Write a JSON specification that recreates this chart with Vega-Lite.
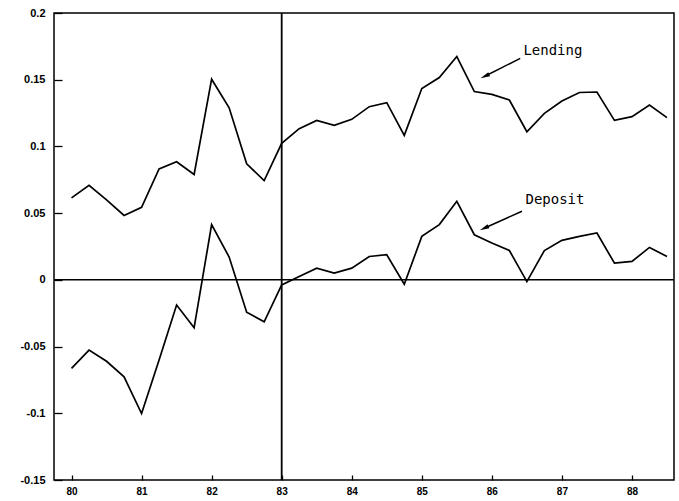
{
  "$schema": "https://vega.github.io/schema/vega-lite/v6.json",
  "width": 620,
  "height": 467,
  "autosize": {"type": "none"},
  "padding": {"left": 54, "top": 13, "right": 5, "bottom": 21},
  "background": "white",
  "config": {
    "view": {"stroke": "black", "strokeWidth": 1.5},
    "axis": {"grid": false, "domain": false, "tickColor": "black", "tickWidth": 1.3, "labelColor": "black", "labelFont": "Liberation Sans", "labelFontWeight": "bold", "title": null}
  },
  "datasets": {
    "series": [
      {"t": 80.0, "s": "Lending", "v": 0.0614}, {"t": 80.25, "s": "Lending", "v": 0.0709}, {"t": 80.5, "s": "Lending", "v": 0.060}, {"t": 80.75, "s": "Lending", "v": 0.0483},
      {"t": 81.0, "s": "Lending", "v": 0.0544}, {"t": 81.25, "s": "Lending", "v": 0.0832}, {"t": 81.5, "s": "Lending", "v": 0.0885}, {"t": 81.75, "s": "Lending", "v": 0.079},
      {"t": 82.0, "s": "Lending", "v": 0.1504}, {"t": 82.25, "s": "Lending", "v": 0.129}, {"t": 82.5, "s": "Lending", "v": 0.087}, {"t": 82.75, "s": "Lending", "v": 0.0744},
      {"t": 83.0, "s": "Lending", "v": 0.1023}, {"t": 83.25, "s": "Lending", "v": 0.1133}, {"t": 83.5, "s": "Lending", "v": 0.1195}, {"t": 83.75, "s": "Lending", "v": 0.1158},
      {"t": 84.0, "s": "Lending", "v": 0.1203}, {"t": 84.25, "s": "Lending", "v": 0.1298}, {"t": 84.5, "s": "Lending", "v": 0.1328}, {"t": 84.75, "s": "Lending", "v": 0.1083},
      {"t": 85.0, "s": "Lending", "v": 0.1434}, {"t": 85.25, "s": "Lending", "v": 0.1516}, {"t": 85.5, "s": "Lending", "v": 0.1674}, {"t": 85.75, "s": "Lending", "v": 0.1411},
      {"t": 86.0, "s": "Lending", "v": 0.139}, {"t": 86.25, "s": "Lending", "v": 0.1348}, {"t": 86.5, "s": "Lending", "v": 0.111}, {"t": 86.75, "s": "Lending", "v": 0.1248},
      {"t": 87.0, "s": "Lending", "v": 0.134}, {"t": 87.25, "s": "Lending", "v": 0.1404}, {"t": 87.5, "s": "Lending", "v": 0.1408}, {"t": 87.75, "s": "Lending", "v": 0.1195},
      {"t": 88.0, "s": "Lending", "v": 0.1223}, {"t": 88.25, "s": "Lending", "v": 0.131}, {"t": 88.5, "s": "Lending", "v": 0.1216},
      {"t": 80.0, "s": "Deposit", "v": -0.0664}, {"t": 80.25, "s": "Deposit", "v": -0.0526}, {"t": 80.5, "s": "Deposit", "v": -0.061}, {"t": 80.75, "s": "Deposit", "v": -0.0727},
      {"t": 81.0, "s": "Deposit", "v": -0.1002}, {"t": 81.25, "s": "Deposit", "v": -0.06}, {"t": 81.5, "s": "Deposit", "v": -0.0188}, {"t": 81.75, "s": "Deposit", "v": -0.0359},
      {"t": 82.0, "s": "Deposit", "v": 0.0414}, {"t": 82.25, "s": "Deposit", "v": 0.0171}, {"t": 82.5, "s": "Deposit", "v": -0.0243}, {"t": 82.75, "s": "Deposit", "v": -0.0314},
      {"t": 83.0, "s": "Deposit", "v": -0.0038}, {"t": 83.25, "s": "Deposit", "v": 0.0025}, {"t": 83.5, "s": "Deposit", "v": 0.0088}, {"t": 83.75, "s": "Deposit", "v": 0.005},
      {"t": 84.0, "s": "Deposit", "v": 0.0088}, {"t": 84.25, "s": "Deposit", "v": 0.0175}, {"t": 84.5, "s": "Deposit", "v": 0.0188}, {"t": 84.75, "s": "Deposit", "v": -0.0033},
      {"t": 85.0, "s": "Deposit", "v": 0.0326}, {"t": 85.25, "s": "Deposit", "v": 0.0414}, {"t": 85.5, "s": "Deposit", "v": 0.0589}, {"t": 85.75, "s": "Deposit", "v": 0.0338},
      {"t": 86.0, "s": "Deposit", "v": 0.0276}, {"t": 86.25, "s": "Deposit", "v": 0.022}, {"t": 86.5, "s": "Deposit", "v": -0.0013}, {"t": 86.75, "s": "Deposit", "v": 0.022},
      {"t": 87.0, "s": "Deposit", "v": 0.0296}, {"t": 87.25, "s": "Deposit", "v": 0.0326}, {"t": 87.5, "s": "Deposit", "v": 0.0351}, {"t": 87.75, "s": "Deposit", "v": 0.0125},
      {"t": 88.0, "s": "Deposit", "v": 0.0138}, {"t": 88.25, "s": "Deposit", "v": 0.0243}, {"t": 88.5, "s": "Deposit", "v": 0.0175}
    ],
    "labels": [
      {"name": "Lending", "x": 86.45, "y": 0.1717, "ax": 86.405, "ay": 0.1660, "bx": 85.9, "by": 0.1526},
      {"name": "Deposit", "x": 86.48, "y": 0.0602, "ax": 86.43, "ay": 0.0514, "bx": 85.89, "by": 0.0387}
    ]
  },
  "layer": [
    {
      "data": {"values": [{"z": 0}]},
      "mark": {"type": "rule", "color": "black", "strokeWidth": 1.5},
      "encoding": {"y": {"field": "z", "type": "quantitative", "scale": {"domain": [-0.15, 0.2], "nice": false, "zero": false}}}
    },
    {
      "data": {"values": [{"z": 83}]},
      "mark": {"type": "rule", "color": "black", "strokeWidth": 1.8},
      "encoding": {"x": {"field": "z", "type": "quantitative", "scale": {"domain": [79.75, 88.6], "nice": false, "zero": false}}}
    },
    {
      "data": {"name": "series"},
      "mark": {"type": "line", "color": "black", "strokeWidth": 1.7, "strokeJoin": "miter"},
      "encoding": {
        "x": {"field": "t", "type": "quantitative", "scale": {"domain": [79.75, 88.6], "nice": false, "zero": false},
          "axis": {"values": [80, 80.25, 80.5, 80.75, 81, 81.25, 81.5, 81.75, 82, 82.25, 82.5, 82.75, 83, 83.25, 83.5, 83.75, 84, 84.25, 84.5, 84.75, 85, 85.25, 85.5, 85.75, 86, 86.25, 86.5, 86.75, 87, 87.25, 87.5, 87.75, 88, 88.25, 88.5],
            "format": "d", "labelExpr": "datum.value % 1 === 0 ? format(datum.value, 'd') : ''", "offset": -5, "tickSize": 5, "labelPadding": 6, "labelFontSize": 10, "labelFlush": false}},
        "y": {"field": "v", "type": "quantitative", "scale": {"domain": [-0.15, 0.2], "nice": false, "zero": false},
          "axis": {"values": [-0.15, -0.1, -0.05, 0, 0.05, 0.1, 0.15, 0.2], "format": ".2~f", "labelExpr": "replace(datum.label, '\u2212', '-')", "offset": -8, "tickSize": 8, "labelPadding": 9, "labelFontSize": 11, "labelFlush": false}},
        "detail": {"field": "s", "type": "nominal"}
      }
    },
    {
      "data": {"name": "labels"},
      "mark": {"type": "text", "align": "left", "baseline": "middle", "font": "DejaVu Sans Mono", "fontSize": 14, "color": "black"},
      "encoding": {
        "x": {"field": "x", "type": "quantitative"},
        "y": {"field": "y", "type": "quantitative"},
        "text": {"field": "name"}
      }
    },
    {
      "data": {"name": "labels"},
      "mark": {"type": "rule", "color": "black", "strokeWidth": 1.5},
      "encoding": {
        "x": {"field": "ax", "type": "quantitative"},
        "y": {"field": "ay", "type": "quantitative"},
        "x2": {"field": "bx"},
        "y2": {"field": "by"}
      }
    },
    {
      "data": {"name": "labels"},
      "mark": {"type": "point", "shape": "M0,-1L0.45,1L-0.45,1Z", "filled": true, "color": "black", "size": 90, "angle": 245.5, "opacity": 1},
      "encoding": {
        "x": {"field": "bx", "type": "quantitative"},
        "y": {"field": "by", "type": "quantitative"}
      }
    }
  ]
}
